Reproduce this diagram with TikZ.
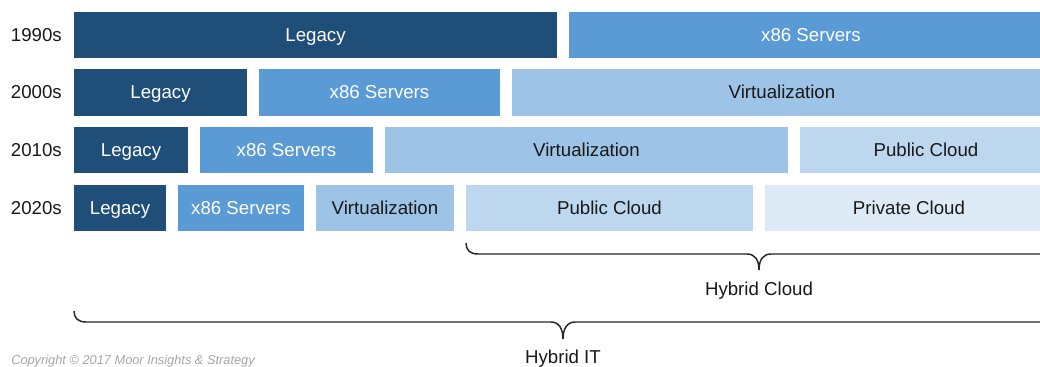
\documentclass[tikz,border=0pt]{standalone}
\usepackage{fontspec}
\setmainfont{Liberation Sans}
\definecolor{navy}{HTML}{1F4E79}
\definecolor{midblue}{HTML}{5B9BD5}
\definecolor{lightblue}{HTML}{9DC3E6}
\definecolor{paleblue}{HTML}{BDD7EE}
\definecolor{faintblue}{HTML}{DEEBF7}
\definecolor{copygray}{HTML}{A6A6A6}
\tikzset{
  rowfont/.style={font=\fontsize{14}{16}\selectfont,inner sep=0.75pt,text height=10pt,text depth=0.5pt},
  wlabel/.style={rowfont,text=white},
  klabel/.style={rowfont,text=black!90},
  yearlabel/.style={rowfont,anchor=east,text=black!90},
  bracelabel/.style={rowfont,text=black!90},
  brace/.style={draw=black!85,line width=1.1pt},
}

\begin{document}
\begin{tikzpicture}[x=0.75pt,y=0.75pt,yscale=-1,xscale=1]
\useasboundingbox (0,0) rectangle (1040,367);

% Years
\node[yearlabel] (y1990) at (63,35) {1990s};
\node[yearlabel] (y2000) at (63,92.5) {2000s};
\node[yearlabel] (y2010) at (63,150) {2010s};
\node[yearlabel] (y2020) at (63,208) {2020s};

%Shape: Rectangle row 1990s
\fill[navy] (74,12) rectangle (557,58);
\fill[midblue] (569,12) rectangle (1040,58);
% Text Node
\node[wlabel] (leg1) at (315.5,35) {Legacy};
\node[wlabel] (srv1) at (811,35) {x86 Servers};

%Shape: Rectangle row 2000s
\fill[navy] (74,69) rectangle (247,116);
\fill[midblue] (259,69) rectangle (500,116);
\fill[lightblue] (512,69) rectangle (1040,116);
% Text Node
\node[wlabel] (leg2) at (160.5,92.5) {Legacy};
\node[wlabel] (srv2) at (379.5,92.5) {x86 Servers};
\node[klabel] (virt2) at (782,92.5) {Virtualization};

%Shape: Rectangle row 2010s
\fill[navy] (74,127) rectangle (188,173);
\fill[midblue] (200,127) rectangle (373,173);
\fill[lightblue] (385,127) rectangle (788,173);
\fill[paleblue] (800,127) rectangle (1040,173);
% Text Node
\node[wlabel] (leg3) at (131,150) {Legacy};
\node[wlabel] (srv3) at (286.5,150) {x86 Servers};
\node[klabel] (virt3) at (586.5,150) {Virtualization};
\node[klabel] (pub3) at (926,150) {Public Cloud};

%Shape: Rectangle row 2020s
\fill[navy] (74,185) rectangle (166,231);
\fill[midblue] (178,185) rectangle (304,231);
\fill[lightblue] (316,185) rectangle (454,231);
\fill[paleblue] (466,185) rectangle (753,231);
\fill[faintblue] (765,185) rectangle (1040,231);
% Text Node
\node[wlabel] (leg4) at (120,208) {Legacy};
\node[wlabel] (srv4) at (241,208) {x86 Servers};
\node[klabel] (virt4) at (385,208) {Virtualization};
\node[klabel] (pub4) at (609.5,208) {Public Cloud};
\node[klabel] (priv4) at (909,208) {Private Cloud};

%Shape: Brace
\draw[brace] (466,243) .. controls (466,250) and (470,254) .. (478,254) -- (747,254)
  .. controls (755,254) and (759,260) .. (759,270)
  .. controls (759,260) and (763,254) .. (771,254) -- (1040,254);
\draw[brace] (74,311) .. controls (74,318) and (78,322) .. (86,322) -- (551,322)
  .. controls (559,322) and (563,329) .. (563,339)
  .. controls (563,329) and (567,322) .. (575,322) -- (1040,322);

% Text Node
\node[bracelabel] (hcloud) at (759,289.5) {Hybrid Cloud};
\node[bracelabel] (hit) at (563,357.5) {Hybrid IT};
\node[anchor=west,text=copygray,font=\fontsize{9.6}{11}\itshape,inner sep=0.75pt] (copy) at (10,361) {Copyright © 2017 Moor Insights \& Strategy};

\end{tikzpicture}
\end{document}
